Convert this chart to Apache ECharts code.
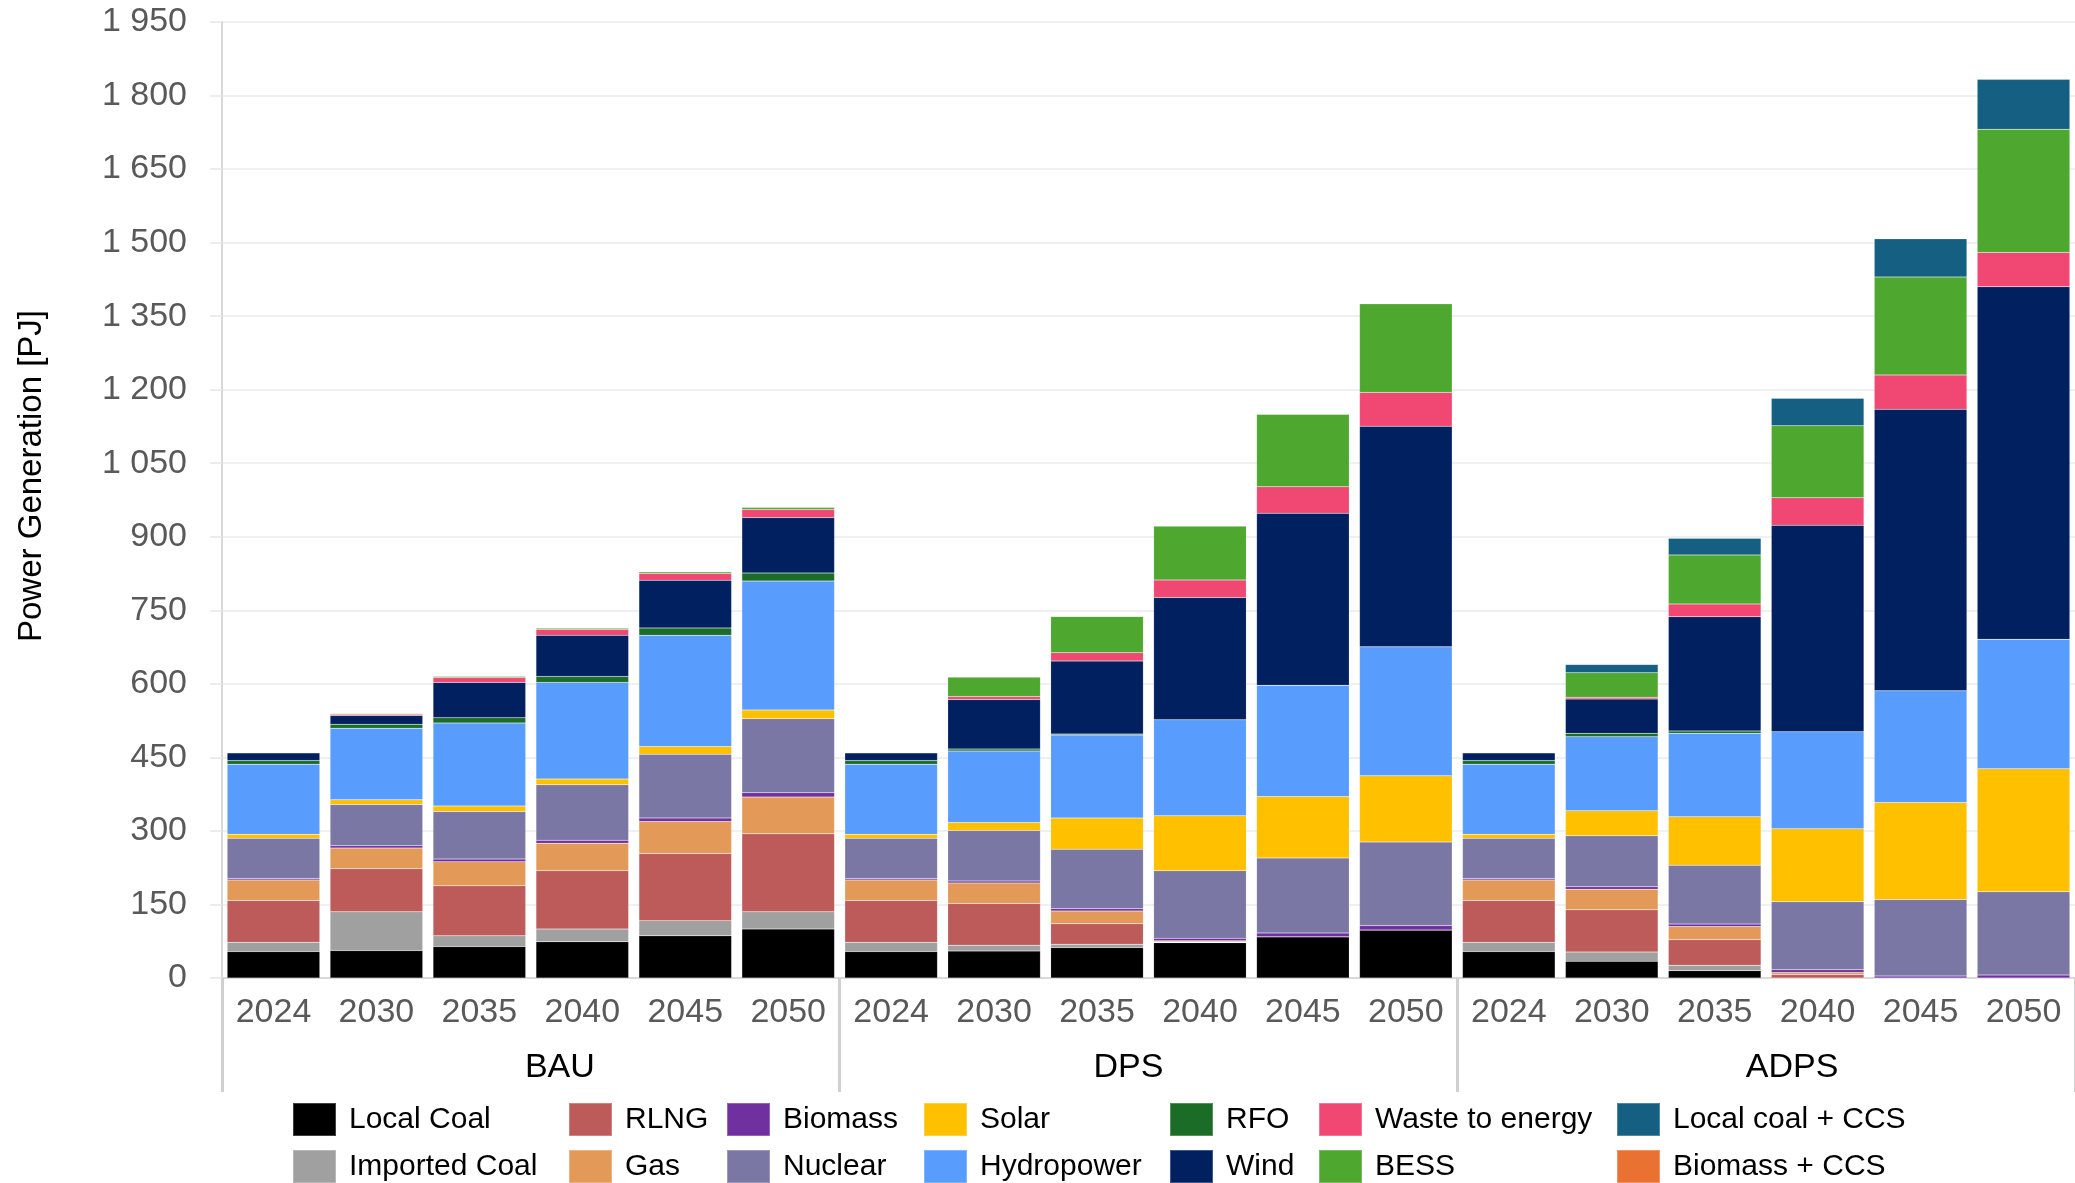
<!DOCTYPE html>
<html>
<head>
<meta charset="utf-8">
<script src="https://cdn.jsdelivr.net/npm/echarts@6/dist/echarts.min.js"></script>
<style>
html,body{margin:0;padding:0;background:#fff;}
#chart{width:2075px;height:1183px;}
</style>
</head>
<body>
<div id="chart"></div>
<script>
// Categories
const years = ['2024','2030','2035','2040','2045','2050','2024','2030','2035','2040','2045','2050','2024','2030','2035','2040','2045','2050'];
const scenarios = ['BAU','DPS','ADPS'];
const yTicks = {min:0, max:1950, interval:150};

// Series values (PJ), order: BAU x6, DPS x6, ADPS x6
const localCoal    = [54,56,64,74,86,100, 54,55,62,72,84,98, 54,34,15,0,0,0];
const importedCoal = [19,79,22,26,31,35, 19,12,7,1,0,0, 19,19,11,0,0,0];
const rlng         = [85,88,102,119,137,159, 85,85,41.5,1.5,0,0, 85,86,52,7,0,0];
const gas          = [42,42,49,56,65,75, 42,42,26,1.5,0,0, 42,42,27,4,0,0];
const biomass      = [3,5,5.5,6,7.5,9, 3,4,5,5,8,9, 3,5,5,6,4,6];
const nuclear      = [82,84,97,113,130,151, 82,103,121,138,153,170.5, 82,104,120,138.5,156,170];
const solar        = [8,9.5,11.5,12,15.6,17.7, 8,16,64,112,125,135, 8,51,99,149,198,251];
const hydropower   = [143,146,169,197,227,263, 143,146,169,196,227,263, 143,151,170,198,228,264];
const rfo          = [7.5,8,11,12,15,16.4, 7.5,4,2,0,0,0, 7.5,7,5,0,0,0];
const wind         = [16,18,72,84,97,113, 16,101,149,249,351,450, 16,70,233,421,574,719];
const wasteToEnergy= [0,2.7,10,12,14,16.3, 0,6,17,36,54,69, 0,3.7,26,56,70,70];
const bess         = [0,1.4,2.7,2.7,3.4,4.8, 0,40,74,110,148,181, 0,50,100,147,200,251];
const localCoalCcs = [0,0,0,0,0,0, 0,0,0,0,0,0, 0,17,34,56,78,102];
const biomassCcs   = [0,0,0,0,0,0, 0,0,0,0,0,0, 0,0,0,0,0,0];

const seriesDefs = [
  ['Local Coal', localCoal, '#000000'],
  ['Imported Coal', importedCoal, '#A0A0A0'],
  ['RLNG', rlng, '#BC5B59'],
  ['Gas', gas, '#E39A58'],
  ['Biomass', biomass, '#7030A0'],
  ['Nuclear', nuclear, '#7A77A5'],
  ['Solar', solar, '#FFC000'],
  ['Hydropower', hydropower, '#589DFD'],
  ['RFO', rfo, '#1B6C26'],
  ['Wind', wind, '#002060'],
  ['Waste to energy', wasteToEnergy, '#F04773'],
  ['BESS', bess, '#4EA72E'],
  ['Local coal + CCS', localCoalCcs, '#156082'],
  ['Biomass + CCS', biomassCcs, '#E97132']
];

const FONT = "'Liberation Sans', Arial, sans-serif";

// Legend columns (column-major, 2 rows)
const legendCols = [
  [292, ['Local Coal','Imported Coal']],
  [568, ['RLNG','Gas']],
  [726, ['Biomass','Nuclear']],
  [923, ['Solar','Hydropower']],
  [1169, ['RFO','Wind']],
  [1318, ['Waste to energy','BESS']],
  [1616, ['Local coal + CCS','Biomass + CCS']]
];
const legendRowTops = [1102, 1149];

const legends = [];
legendCols.forEach(([x, names]) => {
  names.forEach((nm, r) => {
    legends.push({
      left: x, top: legendRowTops[r], orient: 'horizontal', padding: 0,
      itemWidth: 43, itemHeight: 33, icon: 'rect',
      selectedMode: false,
      data: [nm],
      textStyle: {fontFamily: FONT, fontSize: 30, color: '#000', padding: [0,0,0,8]}
    });
  });
});

const groupLabelStyle = {fontSize: 34, color: '#000', fontFamily: FONT};

const chart = echarts.init(document.getElementById('chart'), null, {renderer: 'canvas'});
chart.setOption({
  animation: false,
  backgroundColor: '#fff',
  textStyle: {fontFamily: FONT},
  legend: legends,
  grid: {left: 222, right: -4, top: 22, bottom: 205, containLabel: false},
  xAxis: [
    {
      type: 'category', data: years, position: 'bottom',
      axisLine: {show: true, lineStyle: {color: '#d9d9d9', width: 2}},
      axisTick: {show: false},
      axisLabel: {interval: 0, margin: 18, fontSize: 34, color: '#595959', fontFamily: FONT}
    },
    {
      type: 'category', data: scenarios, position: 'bottom', offset: 0,
      axisLine: {show: false},
      axisTick: {show: true, interval: 0, length: 114, lineStyle: {color: '#d0d0d0', width: 3}},
      axisLabel: {
        interval: 0, margin: 73, fontSize: 34, color: '#000', fontFamily: FONT,
        formatter: v => v === 'BAU' ? '{a|' + v + '}' : (v === 'DPS' ? '{b|' + v + '}' : '{c|' + v + '}'),
        rich: {
          a: Object.assign({padding: [0,0,0,58]}, groupLabelStyle),
          b: Object.assign({padding: [0,40,0,0]}, groupLabelStyle),
          c: Object.assign({padding: [0,0,0,52]}, groupLabelStyle)
        }
      }
    }
  ],
  yAxis: {
    type: 'value', min: yTicks.min, max: yTicks.max, interval: yTicks.interval,
    name: 'Power Generation [PJ]', nameLocation: 'middle', nameRotate: 90, nameGap: 174,
    nameTextStyle: {fontSize: 33, color: '#000', fontFamily: FONT, padding: [0,0,0,48]},
    axisLine: {show: true, lineStyle: {color: '#d9d9d9', width: 2}},
    axisTick: {show: true, length: 12, lineStyle: {color: '#e8e8e8', width: 1.5}},
    splitLine: {show: true, lineStyle: {color: '#ebebeb', width: 1.5}},
    axisLabel: {
      margin: 35, fontSize: 34, color: '#595959', fontFamily: FONT,
      formatter: v => String(v).replace(/\B(?=(\d{3})+(?!\d))/g, ' ')
    }
  },
  series: seriesDefs.map(([name, data, color]) => ({
    name, type: 'bar', stack: 'total', data,
    xAxisIndex: 0, yAxisIndex: 0,
    barCategoryGap: '10%',
    itemStyle: {color, borderColor: 'rgba(255,255,255,0.25)', borderWidth: 0.5},
    emphasis: {disabled: true}, silent: true
  }))
});
</script>
</body>
</html>
